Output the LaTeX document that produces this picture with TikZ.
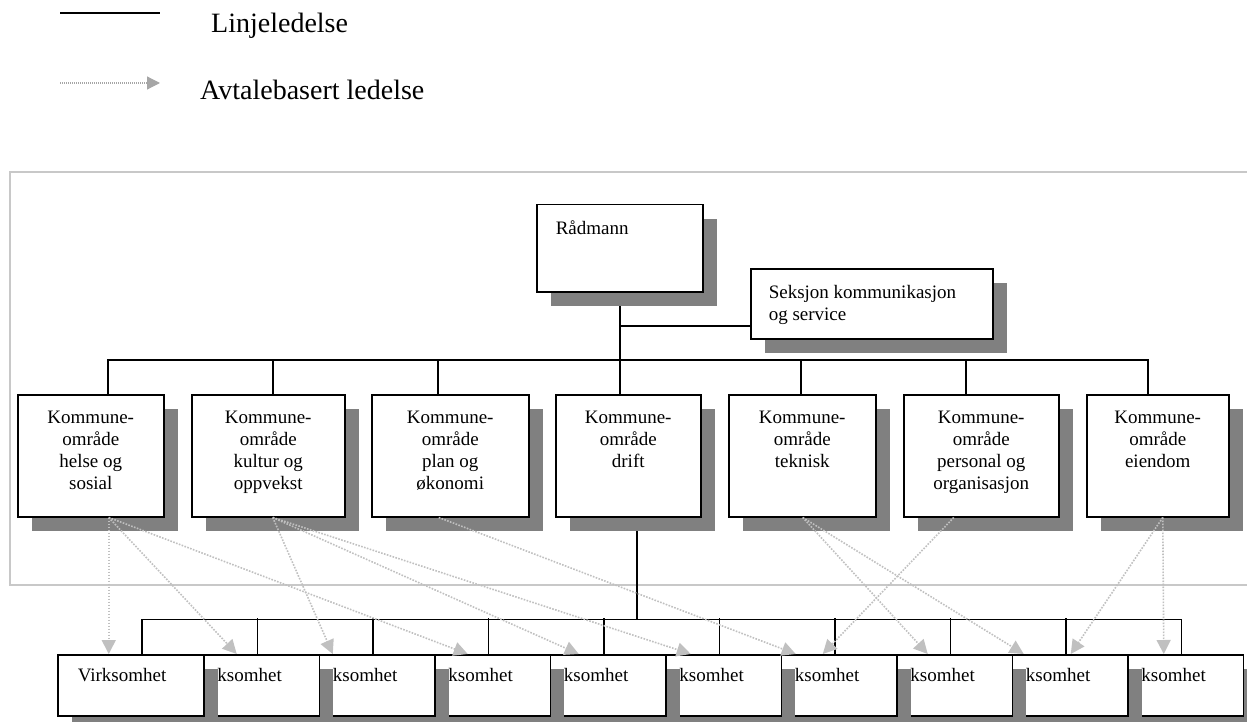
\documentclass[tikz,border=0pt]{standalone}
\usepackage{fontspec}
\setmainfont{Liberation Serif}
\usepackage{tikz}
\usetikzlibrary{arrows.meta,shadows,backgrounds}
\definecolor{shade}{HTML}{808080}
\definecolor{dots}{HTML}{C0C0C0}
\definecolor{keygray}{HTML}{A6A6A6}
\definecolor{rim}{HTML}{C8C8C8}
\newcommand{\boxbody}[3]{\parbox[t][#1][t]{#2}{#3}}
\tikzset{
  orgbox/.style={draw=black,line width=1.5pt,fill=white,inner xsep=0pt,inner ysep=16pt,anchor=north west,
    font=\fontsize{19pt}{22pt}\selectfont,general shadow={fill=shade,shadow xshift=14pt,shadow yshift=-14pt}},
  orgline/.style={line width=1.5pt,color=black},
  agree/.style={line width=1.6pt,color=dots,dash pattern=on 1.6pt off 1.4pt,-{Triangle[length=14pt,width=14pt]}},
  keyarrow/.style={line width=1.2pt,color=keygray,dash pattern=on 1pt off 1pt,-{Triangle[length=13pt,width=13pt]}},
  keytext/.style={font=\fontsize{28pt}{32pt}\selectfont,anchor=base west,inner sep=0pt},
  rimline/.style={line width=1.8pt,color=rim}}

\begin{document}
\begin{tikzpicture}[x=1pt,y=-1pt]
\useasboundingbox (0,0) rectangle (1247,722);
\coordinate (keyA) at (60,13);
\coordinate (keyB) at (160,13);
\coordinate (keyC) at (60,83);
\coordinate (keyD) at (160,83);
\draw[orgline,line width=2pt] (keyA) -- (keyB);
\draw[keyarrow] (keyC) -- (keyD);
\node[keytext] (solidkey) at (211,33) {Linjeledelse};
\node[keytext] (dotkey) at (200,100) {Avtalebasert ledelse};

\node[orgbox,inner xsep=19pt] (rad) at (536,204) {\boxbody{55pt}{128pt}{Rådmann}};
\node[orgbox,inner xsep=18pt,inner ysep=17pt] (sek) at (750,268) {\boxbody{36pt}{206pt}{\raggedright Seksjon kommunikasjon\\og service}};
\foreach \n/\lx/\w/\txt in {k1/17/146/{helse og\\sosial}, k2/191/153/{kultur og\\oppvekst}, k3/371/157/{plan og\\økonomi}, k4/555/145/drift, k5/728/147/teknisk, k6/903/155/{personal og\\organisasjon}, k7/1086/142/eiendom}
  \node[orgbox] (\n) at (\lx,394) {\boxbody{90pt}{\w pt}{\centering Kommune-\\område\\\txt}};
\foreach \i in {10,9,...,2}{
  \pgfmathsetmacro{\lx}{57+(\i-1)*115.5}
  \node[orgbox,inner xsep=20pt,inner ysep=14pt] (v\i) at (\lx,654) {\boxbody{33pt}{106pt}{\phantom{Vir}ksomhet}};
}
\node[orgbox,inner xsep=20pt,inner ysep=14pt] (v1) at (57,654) {\boxbody{33pt}{106pt}{Virksomhet}};

\begin{scope}[on background layer]
\draw[rimline] (1250,172) -- (10,172) -- (10,585) -- (1250,585);
\coordinate (hub) at (619,360);
\coordinate (branch) at (619,326);
\draw[orgline] (rad.south) -- (rad.south |- k4.north);
\draw[orgline] (branch) -- (branch -| sek.west);
\draw[orgline] ([xshift=17pt]k1.north) |- (hub) -| ([xshift=-10pt]k7.north);
\foreach \n/\dx in {k2/4.5,k3/-12.5,k5/-1.5,k6/-15.5}
  \draw[orgline] ([xshift=\dx pt]\n.north) -- ++(0,-34);
\draw[orgline] ([xshift=8.5pt]k4.south) -- ++(0,102) coordinate (low);
\draw[orgline] ([xshift=11pt]v1.north) |- (low) -| ([xshift=11pt]v10.north);
\foreach \i in {2,...,9}
  \draw[orgline] ([xshift=11pt]v\i.north) -- ++(0,-36);
\end{scope}

\foreach \src/\sx/\dst/\dx in {k1/18/v1/-22, k1/18/v2/-9.5, k1/18/v4/-9.5, k2/4.5/v3/-29, k2/4.5/v5/-14, k2/4.5/v6/-17.5, k3/-11.5/v7/-28, k5/0.5/v8/-11.5, k5/0.5/v9/-31, k6/-27.5/v7/-1, k7/5/v9/16, k7/5/v10/-6.5}
  \draw[agree] ([xshift=\sx pt]\src.south) -- ([xshift=\dx pt]\dst.north);
\end{tikzpicture}
\end{document}
